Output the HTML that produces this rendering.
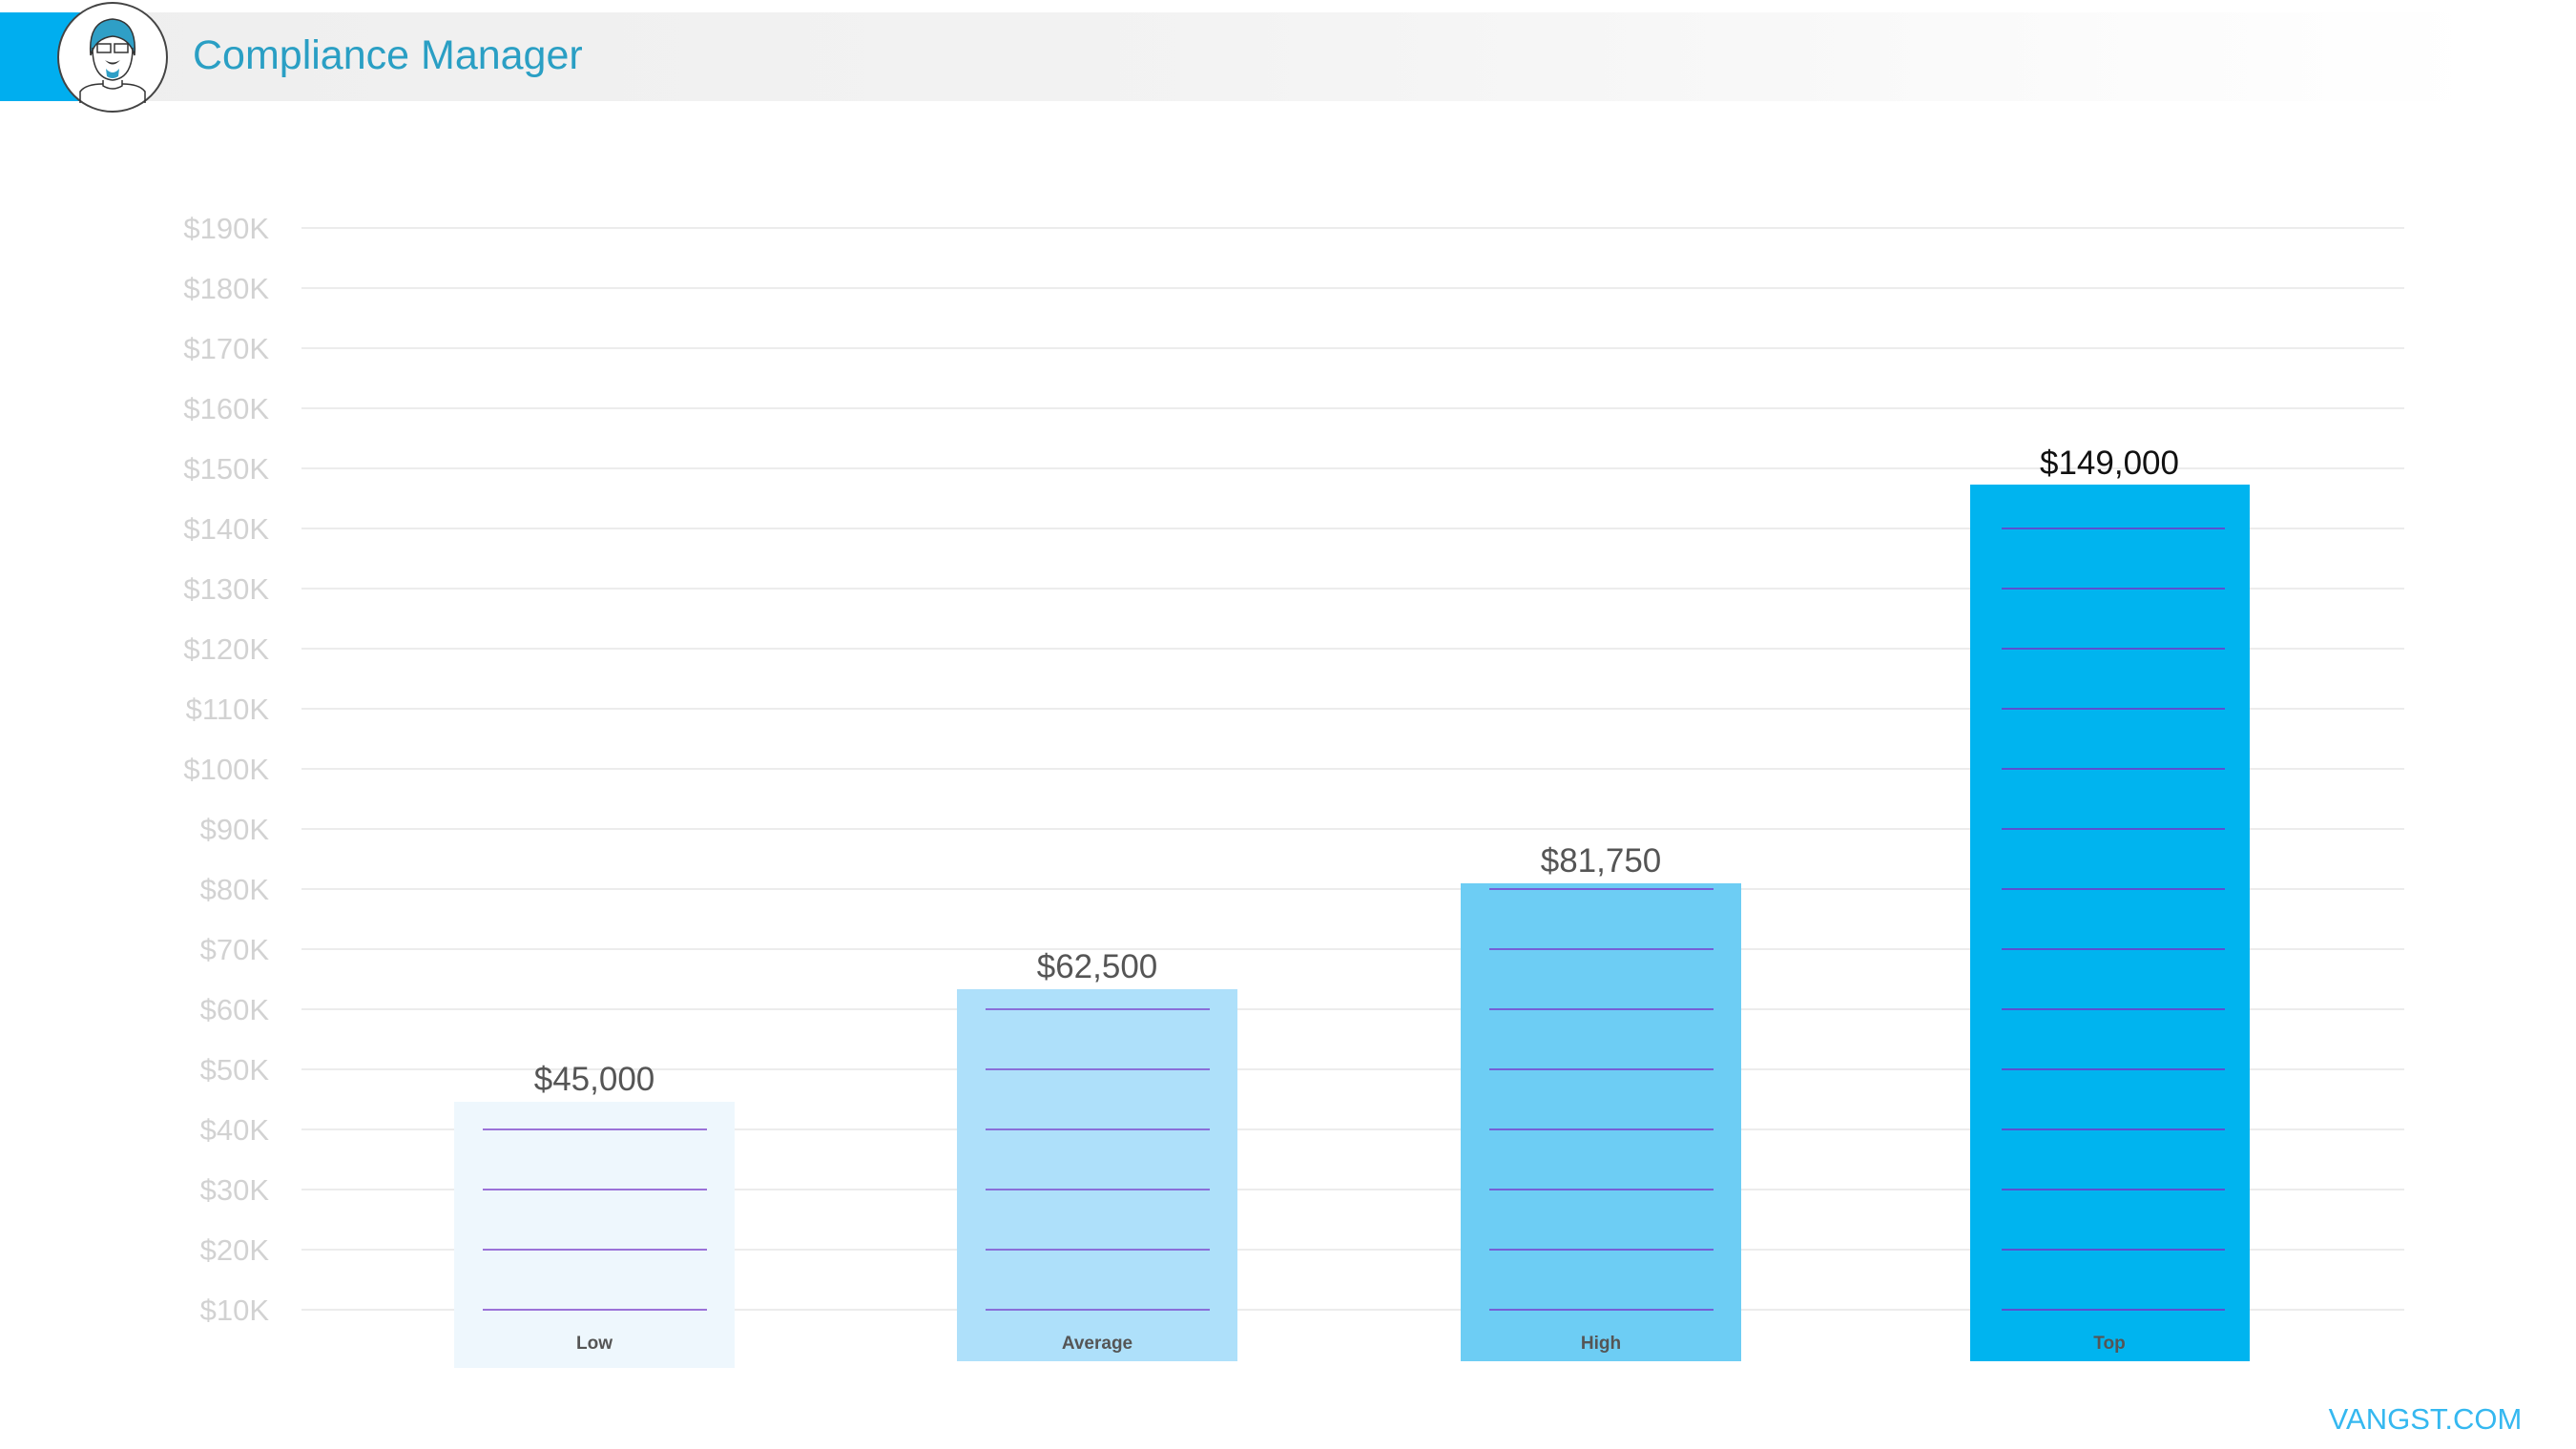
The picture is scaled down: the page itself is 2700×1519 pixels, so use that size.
<!DOCTYPE html>
<html><head><meta charset="utf-8"><style>
html,body{margin:0;padding:0;background:#fff;}
svg{display:block;font-family:"Liberation Sans",sans-serif;}
</style></head><body>
<svg width="2700" height="1519" viewBox="0 0 2700 1519" xmlns="http://www.w3.org/2000/svg">
<defs>
<linearGradient id="hg" x1="0" x2="1" y1="0" y2="0">
<stop offset="0" stop-color="#eeeeee"/><stop offset="0.5" stop-color="#f3f3f3"/><stop offset="1" stop-color="#ffffff"/>
</linearGradient>
</defs>
<rect x="0" y="13" width="2600" height="93" fill="url(#hg)"/>
<rect x="0" y="13" width="90" height="93" fill="#00aeef"/>
<circle cx="118" cy="60" r="57" fill="#fff" stroke="#444" stroke-width="2"/>
<path d="M95 58 Q92 22 118 20 Q144 22 141 58 Q136 40 118 38 Q100 40 95 58Z" fill="#2f9fc6" stroke="#333" stroke-width="1.5"/>
<path d="M97 50 Q97 82 118 84 Q139 82 139 50" fill="none" stroke="#333" stroke-width="1.5"/>
<rect x="102" y="46" width="14" height="9" fill="none" stroke="#333" stroke-width="1.5"/>
<rect x="120" y="46" width="14" height="9" fill="none" stroke="#333" stroke-width="1.5"/>
<path d="M110 63 Q118 68 126 63 Q118 72 110 63Z" fill="#333"/>
<path d="M111 72 Q118 80 125 72 L124 80 Q118 84 112 80Z" fill="#2f9fc6"/>
<path d="M108 84 L108 90 Q118 96 128 90 L128 84" fill="none" stroke="#333" stroke-width="1.5"/>
<path d="M84 108 L84 96 Q90 88 108 88 M128 88 Q146 88 152 96 L152 108" fill="none" stroke="#333" stroke-width="1.5"/>
<text x="202" y="72" font-size="43" fill="#2a9fc4">Compliance Manager</text>

<g stroke="#ececec" stroke-width="2">
<line x1="316" x2="2520" y1="239" y2="239"/><line x1="316" x2="2520" y1="302" y2="302"/>
<line x1="316" x2="2520" y1="365" y2="365"/><line x1="316" x2="2520" y1="428" y2="428"/>
<line x1="316" x2="2520" y1="491" y2="491"/><line x1="316" x2="2520" y1="554" y2="554"/>
<line x1="316" x2="2520" y1="617" y2="617"/><line x1="316" x2="2520" y1="680" y2="680"/>
<line x1="316" x2="2520" y1="743" y2="743"/><line x1="316" x2="2520" y1="806" y2="806"/>
<line x1="316" x2="2520" y1="869" y2="869"/><line x1="316" x2="2520" y1="932" y2="932"/>
<line x1="316" x2="2520" y1="995" y2="995"/><line x1="316" x2="2520" y1="1058" y2="1058"/>
<line x1="316" x2="2520" y1="1121" y2="1121"/><line x1="316" x2="2520" y1="1184" y2="1184"/>
<line x1="316" x2="2520" y1="1247" y2="1247"/><line x1="316" x2="2520" y1="1310" y2="1310"/>
<line x1="316" x2="2520" y1="1373" y2="1373"/>
</g>
<g font-size="31" fill="#d2d2d2" text-anchor="end">
<text x="282" y="250">$190K</text><text x="282" y="313">$180K</text><text x="282" y="376">$170K</text>
<text x="282" y="439">$160K</text><text x="282" y="502">$150K</text><text x="282" y="565">$140K</text>
<text x="282" y="628">$130K</text><text x="282" y="691">$120K</text><text x="282" y="754">$110K</text>
<text x="282" y="817">$100K</text><text x="282" y="880">$90K</text><text x="282" y="943">$80K</text>
<text x="282" y="1006">$70K</text><text x="282" y="1069">$60K</text><text x="282" y="1132">$50K</text>
<text x="282" y="1195">$40K</text><text x="282" y="1258">$30K</text><text x="282" y="1321">$20K</text>
<text x="282" y="1384">$10K</text>
</g>

<!-- Low -->
<rect x="476" y="1155" width="294" height="279" fill="#eef7fd"/>
<g stroke="#9b72d8" stroke-width="2">
<line x1="506" x2="741" y1="1184" y2="1184"/><line x1="506" x2="741" y1="1247" y2="1247"/>
<line x1="506" x2="741" y1="1310" y2="1310"/><line x1="506" x2="741" y1="1373" y2="1373"/>
</g>
<!-- Average -->
<rect x="1003" y="1037" width="294" height="390" fill="#aee0fa"/>
<g stroke="#8a6fd8" stroke-width="2">
<line x1="1033" x2="1268" y1="1058" y2="1058"/><line x1="1033" x2="1268" y1="1121" y2="1121"/>
<line x1="1033" x2="1268" y1="1184" y2="1184"/><line x1="1033" x2="1268" y1="1247" y2="1247"/>
<line x1="1033" x2="1268" y1="1310" y2="1310"/><line x1="1033" x2="1268" y1="1373" y2="1373"/>
</g>
<!-- High -->
<rect x="1531" y="926" width="294" height="501" fill="#6dcdf4"/>
<g stroke="#7560d6" stroke-width="2">
<line x1="1561" x2="1796" y1="932" y2="932"/><line x1="1561" x2="1796" y1="995" y2="995"/>
<line x1="1561" x2="1796" y1="1058" y2="1058"/><line x1="1561" x2="1796" y1="1121" y2="1121"/>
<line x1="1561" x2="1796" y1="1184" y2="1184"/><line x1="1561" x2="1796" y1="1247" y2="1247"/>
<line x1="1561" x2="1796" y1="1310" y2="1310"/><line x1="1561" x2="1796" y1="1373" y2="1373"/>
</g>
<!-- Top -->
<rect x="2065" y="508" width="293" height="919" fill="#00b4ef"/>
<g stroke="#5a50d0" stroke-width="2">
<line x1="2098" x2="2332" y1="554" y2="554"/><line x1="2098" x2="2332" y1="617" y2="617"/>
<line x1="2098" x2="2332" y1="680" y2="680"/><line x1="2098" x2="2332" y1="743" y2="743"/>
<line x1="2098" x2="2332" y1="806" y2="806"/><line x1="2098" x2="2332" y1="869" y2="869"/>
<line x1="2098" x2="2332" y1="932" y2="932"/><line x1="2098" x2="2332" y1="995" y2="995"/>
<line x1="2098" x2="2332" y1="1058" y2="1058"/><line x1="2098" x2="2332" y1="1121" y2="1121"/>
<line x1="2098" x2="2332" y1="1184" y2="1184"/><line x1="2098" x2="2332" y1="1247" y2="1247"/>
<line x1="2098" x2="2332" y1="1310" y2="1310"/><line x1="2098" x2="2332" y1="1373" y2="1373"/>
</g>

<g font-size="35" text-anchor="middle">
<text x="623" y="1143" fill="#555">$45,000</text>
<text x="1150" y="1025" fill="#555">$62,500</text>
<text x="1678" y="914" fill="#555">$81,750</text>
<text x="2211" y="497" fill="#111">$149,000</text>
</g>
<g font-size="19" font-weight="bold" fill="#555" text-anchor="middle">
<text x="623" y="1414">Low</text>
<text x="1150" y="1414">Average</text>
<text x="1678" y="1414">High</text>
<text x="2211" y="1414">Top</text>
</g>
<text x="2542" y="1498" font-size="31" fill="#35b8f0" text-anchor="middle">VANGST.COM</text>
</svg>
</body></html>
